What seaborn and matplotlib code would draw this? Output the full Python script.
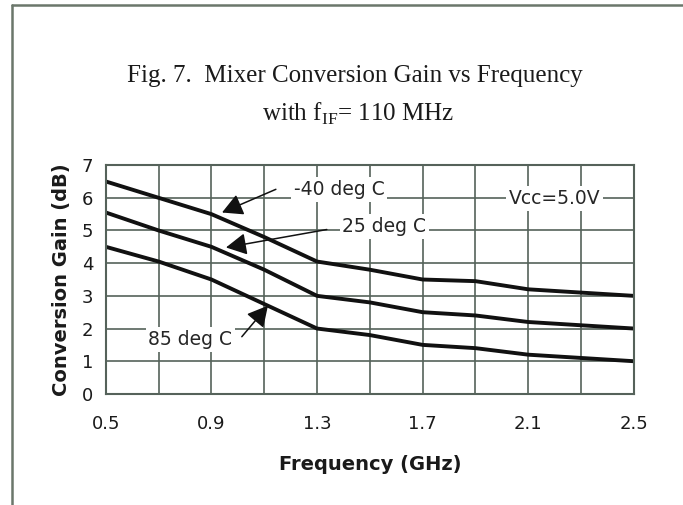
import numpy as np
import pandas as pd
import seaborn as sns
import matplotlib
matplotlib.use("Agg")
import matplotlib.pyplot as plt
from matplotlib.lines import Line2D

# data
freq = [0.5, 0.7, 0.9, 1.1, 1.3, 1.5, 1.7, 1.9, 2.1, 2.3, 2.5]
gain_m40 = [6.5, 6.0, 5.5, 4.8, 4.05, 3.8, 3.5, 3.45, 3.2, 3.1, 3.0]
gain_25 = [5.55, 5.0, 4.5, 3.8, 3.0, 2.8, 2.5, 2.4, 2.2, 2.1, 2.0]
gain_85 = [4.5, 4.05, 3.5, 2.75, 2.0, 1.8, 1.5, 1.4, 1.2, 1.1, 1.0]
temps = ["-40 deg C", "25 deg C", "85 deg C"]
x_ticks = [0.5, 0.9, 1.3, 1.7, 2.1, 2.5]
y_ticks = [0, 1, 2, 3, 4, 5, 6, 7]

df = pd.DataFrame({
    "Frequency": freq * 3,
    "Gain": gain_m40 + gain_25 + gain_85,
    "Temp": [t for t in temps for _ in freq],
})

sns.set_style("white")
plt.rcParams["font.family"] = ["DejaVu Sans"]
plt.rcParams["mathtext.fontset"] = "custom"
plt.rcParams["mathtext.rm"] = "Liberation Serif"

grid_col = "#55625a"

fig = plt.figure(figsize=(6.83, 5.05), dpi=100)
ax = fig.add_axes([0.155, 0.22, 0.773, 0.453])

sns.lineplot(data=df, x="Frequency", y="Gain", hue="Temp",
             palette=["#111111"] * 3, linewidth=2.8, legend=False, ax=ax)

ax.set_xlim(0.5, 2.5)
ax.set_ylim(0, 7)
ax.set_xticks(x_ticks)
ax.set_xticks(np.arange(0.5, 2.51, 0.2), minor=True)
ax.set_yticks(y_ticks)
ax.grid(True, which="both", color=grid_col, linewidth=1.2)
ax.set_axisbelow(True)
for s in ax.spines.values():
    s.set_color(grid_col)
    s.set_linewidth(1.5)
ax.tick_params(axis="both", which="both", length=0, labelsize=13, colors="#1a1a1a")
ax.tick_params(axis="x", pad=15)
ax.tick_params(axis="y", pad=9)
ax.set_xlabel("Frequency (GHz)", fontsize=14, fontweight="bold", color="#1a1a1a", labelpad=16)
ax.set_ylabel("Conversion Gain (dB)", fontsize=14, fontweight="bold", color="#1a1a1a", labelpad=8)

box = dict(boxstyle="square,pad=0.15", fc="white", ec="none")
ax.text(1.384, 6.26, temps[0], fontsize=13.5, ha="center", va="center", bbox=box, zorder=5)
ax.text(1.555, 5.13, temps[1], fontsize=13.5, ha="center", va="center", bbox=box, zorder=5)
ax.text(0.82, 1.67, temps[2], fontsize=13.5, ha="center", va="center", bbox=box, zorder=5)
ax.text(2.2, 5.98, "Vcc=5.0V", fontsize=13.5, ha="center", va="center", bbox=box, zorder=5)

arrow = dict(arrowstyle="-|>,head_length=0.6,head_width=0.32", mutation_scale=21,
             color="#111111", lw=1.1, shrinkA=0, shrinkB=0)
ax.annotate("", xy=(0.94, 5.55), xytext=(1.144, 6.26), arrowprops=arrow, zorder=6)
ax.annotate("", xy=(0.955, 4.48), xytext=(1.337, 5.03), arrowprops=arrow, zorder=6)
ax.annotate("", xy=(1.114, 2.70), xytext=(1.015, 1.75), arrowprops=arrow, zorder=6)

# title
fig.text(0.52, 0.85, "Fig. 7.  Mixer Conversion Gain vs Frequency",
         family="Liberation Serif", fontsize=18, ha="center", va="center", color="#1a1a1a")
fig.text(0.524, 0.775, r"with f$_{\mathrm{IF}}$= 110 MHz",
         family="Liberation Serif", fontsize=18, ha="center", va="center", color="#1a1a1a")

# page frame (top and left edges)
fig.add_artist(Line2D([12 / 683, 1.0], [1 - 5 / 505, 1 - 5 / 505], color="#6b776b", lw=1.8))
fig.add_artist(Line2D([12 / 683, 12 / 683], [0.0, 1 - 5 / 505], color="#6b776b", lw=1.8))

fig.savefig("out.png", dpi=100)
